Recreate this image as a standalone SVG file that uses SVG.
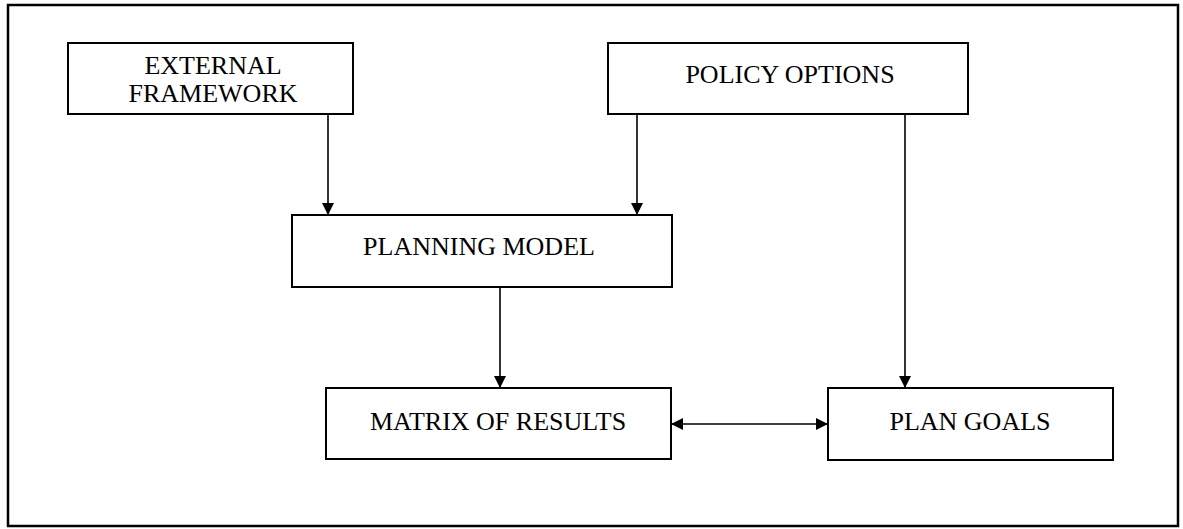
<svg xmlns="http://www.w3.org/2000/svg" width="1183" height="529" viewBox="0 0 1183 529">
<style>
.box{fill:#fff;stroke:#000;stroke-width:2}
.lbl{font-family:"Liberation Serif","Times New Roman",serif;font-size:26px;fill:#000;text-anchor:middle}
.con{fill:none;stroke:#000;stroke-width:1.6}
</style>
<defs>
<marker id="ah" markerUnits="userSpaceOnUse" markerWidth="14" markerHeight="12" refX="12" refY="6" orient="auto-start-reverse">
<path d="M0,0 L12,6 L0,12 z" fill="#000"/>
</marker>
</defs>
<rect width="1183" height="529" fill="#fff"/>
<rect x="8" y="5" width="1170" height="521" fill="none" stroke="#000" stroke-width="2.5"/>
<g id="connectors">
<line class="con" x1="328" y1="114" x2="328" y2="215" marker-end="url(#ah)"/>
<line class="con" x1="637" y1="114" x2="637" y2="215" marker-end="url(#ah)"/>
<line class="con" x1="905" y1="114" x2="905" y2="388" marker-end="url(#ah)"/>
<line class="con" x1="500" y1="287" x2="500" y2="388" marker-end="url(#ah)"/>
<line class="con" x1="671" y1="424" x2="828" y2="424" marker-start="url(#ah)" marker-end="url(#ah)"/>
</g>
<g id="external-framework">
<rect class="box" x="68" y="43" width="285" height="71"/>
<text class="lbl" x="213" y="74">EXTERNAL</text>
<text class="lbl" x="213" y="102">FRAMEWORK</text>
</g>
<g id="policy-options">
<rect class="box" x="608" y="43" width="360" height="71"/>
<text class="lbl" x="790" y="83">POLICY OPTIONS</text>
</g>
<g id="planning-model">
<rect class="box" x="292" y="215" width="380" height="72"/>
<text class="lbl" x="479" y="255">PLANNING MODEL</text>
</g>
<g id="matrix-of-results">
<rect class="box" x="326" y="388" width="345" height="71"/>
<text class="lbl" x="498" y="430">MATRIX OF RESULTS</text>
</g>
<g id="plan-goals">
<rect class="box" x="828" y="388" width="285" height="72"/>
<text class="lbl" x="970" y="430">PLAN GOALS</text>
</g>
</svg>
